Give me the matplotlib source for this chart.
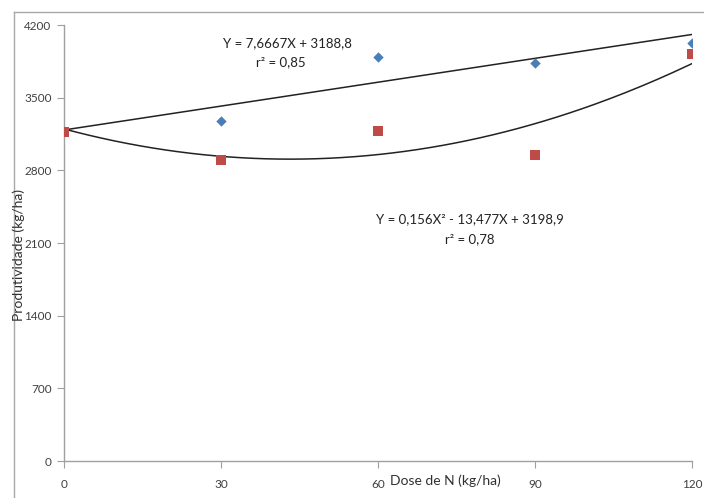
import numpy as np
import matplotlib
matplotlib.use("Agg")
import matplotlib.pyplot as plt
from matplotlib.lines import Line2D

plt.rcParams['font.family'] = ['Lato', 'DejaVu Sans']

doses = [0, 30, 60, 90, 120]
blue_x = [30, 60, 90, 120]
blue_y = [3275, 3895, 3835, 4030]
red_x = [0, 30, 60, 90, 120]
red_y = [3170, 2900, 3180, 2945, 3925]

lin_coef = [7.6667, 3188.8]          # Y = a X + b
quad_coef = [0.156, -13.477, 3198.9]  # Y = a X^2 + b X + c

yticks = [0, 700, 1400, 2100, 2800, 3500, 4200]
xticks = [0, 30, 60, 90, 120]

fig = plt.figure(figsize=(7.04, 4.98), dpi=100)
W, H = 704, 498
ax = fig.add_axes([64 / W, 1 - 461 / H, (692 - 64) / W, (461 - 25) / H])

xs = np.linspace(0, 120, 200)
ax.plot(xs, np.polyval(lin_coef, xs), color='#222222', lw=1.1, zorder=2)
ax.plot(xs, np.polyval(quad_coef, xs), color='#222222', lw=1.1, zorder=2)

ax.scatter(blue_x, blue_y, marker='D', s=28, color='#4a7ebb', zorder=3, linewidths=0)
ax.scatter(red_x, red_y, marker='s', s=55, color='#be4b48', zorder=3, linewidths=0)

ax.set_xlim(0, 120)
ax.set_ylim(0, 4200)
ax.set_xticks(xticks)
ax.set_yticks(yticks)
ax.set_xticklabels([str(v) for v in xticks])
ax.set_yticklabels([str(v) for v in yticks])
for s in ['top', 'right']:
    ax.spines[s].set_visible(False)
for s in ['left', 'bottom']:
    ax.spines[s].set_color('#a0a0a0')
    ax.spines[s].set_linewidth(1.0)
ax.tick_params(axis='both', colors='#a0a0a0', labelcolor='#404040', labelsize=8.5, length=5, direction='out')
ax.tick_params(axis='x', pad=8)
ax.tick_params(axis='y', pad=4)

fig.text(445 / W, 1 - 481 / H, 'Dose de N (kg/ha)', ha='center', va='center', fontsize=10, color='#303030')
fig.text(19 / W, 1 - 255 / H, 'Produtividade (kg/ha)', ha='center', va='center', rotation=90, fontsize=10, color='#303030')

ax.text(287 / W, 1 - 43 / H, 'Y = 7,6667X + 3188,8', transform=fig.transFigure, ha='center', va='center', fontsize=9.5, color='#222222')
ax.text(281 / W, 1 - 62 / H, 'r² = 0,85', transform=fig.transFigure, ha='center', va='center', fontsize=9.5, color='#222222')
ax.text(470 / W, 1 - 219 / H, 'Y = 0,156X² - 13,477X + 3198,9', transform=fig.transFigure, ha='center', va='center', fontsize=9.5, color='#222222')
ax.text(470 / W, 1 - 239 / H, 'r² = 0,78', transform=fig.transFigure, ha='center', va='center', fontsize=9.5, color='#222222')

# outer chart frame (partially visible)
fig.add_artist(Line2D([14 / W, 14 / W], [0, 1 - 12 / H], transform=fig.transFigure, color='#a8a8a8', lw=1.0))
fig.add_artist(Line2D([14 / W, 1], [1 - 12 / H, 1 - 12 / H], transform=fig.transFigure, color='#a8a8a8', lw=1.0))

fig.savefig('out.png', dpi=100)
